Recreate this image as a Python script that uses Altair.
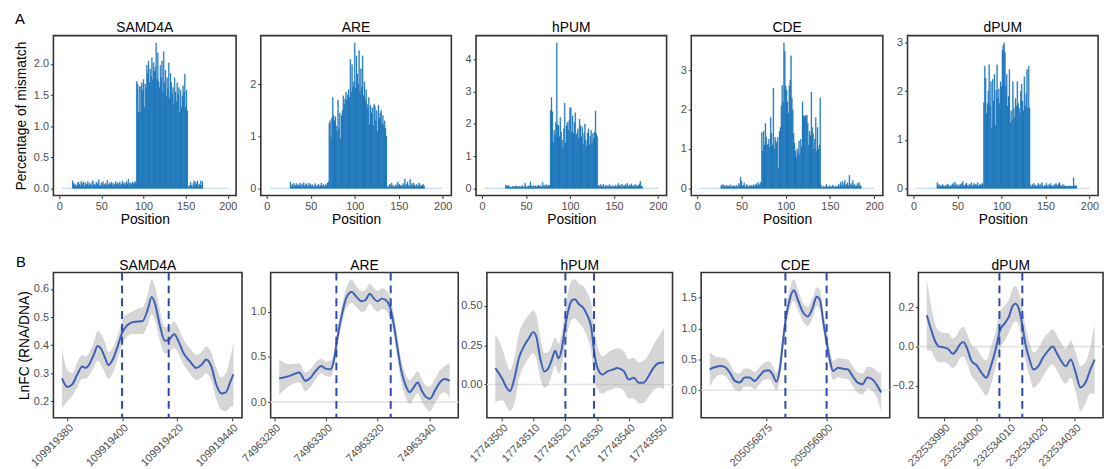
import altair as alt
import pandas as pd

FONT = "Liberation Sans"
GENES = ["SAMD4A", "ARE", "hPUM", "CDE", "dPUM"]

# ---------------- Panel A: percentage of mismatch per position ----------------
SAMD4A_START = 16
SAMD4A_LOW1 = [0.12, 0.08, 0.05, 0.07, 0.03, 0.04, 0.09, 0.10, 0.06, 0.04,
               0.11, 0.05, 0.08, 0.10, 0.03, 0.09, 0.05, 0.07, 0.11, 0.04,
               0.08, 0.06, 0.03, 0.09, 0.12, 0.05, 0.07, 0.04, 0.10, 0.06,
               0.08, 0.14, 0.05, 0.03, 0.09, 0.07, 0.11, 0.04, 0.06, 0.08,
               0.05, 0.13, 0.07, 0.04, 0.09, 0.06, 0.10, 0.05, 0.08, 0.03,
               0.07, 0.11, 0.06, 0.09, 0.04, 0.08, 0.10, 0.05, 0.07, 0.12,
               0.06, 0.09, 0.04, 0.08, 0.11, 0.07, 0.15, 0.05, 0.09, 0.08,
               0.06, 0.10, 0.07, 0.09, 0.11, 0.08]
SAMD4A_HIGH = [1.72, 1.68, 1.22, 1.64, 1.22, 1.64, 1.70, 1.58, 1.75, 1.30,
               1.68, 1.62, 1.98, 1.85, 2.05, 1.70, 1.92, 1.80, 2.10, 1.75,
               2.02, 1.88, 1.95, 2.34, 1.75, 2.18, 1.72, 1.62, 1.98, 1.78,
               2.05, 1.55, 2.20, 1.70, 1.90, 1.48, 1.78, 1.60, 2.02, 1.45,
               1.85, 1.70, 1.52, 1.62, 1.35, 1.78, 1.55, 1.40, 1.70, 1.50,
               1.62, 1.22, 1.58, 1.30, 1.48, 1.65, 1.55, 1.84, 1.30, 1.58,
               1.25]
SAMD4A_LOW2 = [0.02, 0.04, 0.03, 0.10, 0.05, 0.02, 0.08, 0.12, 0.04, 0.10,
               0.06, 0.12, 0.03, 0.07, 0.05, 0.12, 0.04, 0.11]

ARE_START = 27
ARE_LOW1 = [0.12, 0.04, 0.08, 0.03, 0.10, 0.05, 0.06, 0.09, 0.04, 0.07,
            0.05, 0.10, 0.03, 0.08, 0.06, 0.11, 0.04, 0.07, 0.09, 0.03,
            0.06, 0.10, 0.05, 0.08, 0.04, 0.07, 0.02, 0.05, 0.09, 0.03,
            0.04, 0.06, 0.08, 0.03, 0.05, 0.10, 0.04, 0.07, 0.06, 0.03,
            0.08, 0.05, 0.10, 0.12]
ARE_HIGH = [1.25, 1.30, 0.98, 1.35, 1.75, 1.40, 1.30, 1.38, 1.20, 1.10,
            1.70, 1.15, 1.45, 0.95, 1.40, 1.50, 1.78, 1.62, 1.72, 1.85,
            1.70, 1.80, 1.90, 1.75, 2.48, 1.85, 2.38, 1.95, 2.05, 2.80,
            1.92, 2.55, 2.20, 2.00, 2.65, 1.85, 2.30, 1.95, 2.55, 1.78,
            2.05, 1.70, 1.90, 1.62, 1.55, 1.75, 1.22, 1.60, 1.45, 1.55,
            1.20, 1.62, 1.58, 1.30, 1.50, 1.10, 1.60, 1.35, 1.45, 1.50,
            1.25, 1.40, 1.22, 1.30, 1.15, 1.00]
ARE_LOW2 = [0.03, 0.02, 0.05, 0.08, 0.04, 0.10, 0.03, 0.06, 0.02, 0.04,
            0.07, 0.03, 0.12, 0.05, 0.08, 0.04, 0.06, 0.03, 0.09, 0.05,
            0.18, 0.04, 0.08, 0.12, 0.06, 0.03, 0.17, 0.05, 0.09, 0.04,
            0.10, 0.06, 0.03, 0.08, 0.05, 0.04, 0.10, 0.07, 0.03, 0.06,
            0.05, 0.08, 0.04]

HPUM_START = 27
HPUM_LOW1 = [0.10, 0.08, 0.06, 0.09, 0.03, 0.05, 0.02, 0.04, 0.07, 0.03,
             0.05, 0.08, 0.04, 0.06, 0.03, 0.07, 0.05, 0.04, 0.06, 0.08,
             0.03, 0.05, 0.16, 0.04, 0.06, 0.03, 0.08, 0.05, 0.20, 0.07,
             0.04, 0.09, 0.05, 0.06, 0.08, 0.04, 0.07, 0.10, 0.05, 0.08,
             0.06, 0.04, 0.18, 0.07, 0.09, 0.05, 0.12, 0.08, 0.06, 0.10,
             0.08]
HPUM_HIGH = [2.42, 2.82, 2.38, 1.42, 1.80, 1.65, 2.05, 4.52, 1.98, 1.95,
             1.60, 2.20, 1.75, 1.50, 1.25, 1.85, 2.65, 1.40, 1.95, 2.05,
             1.80, 2.10, 2.50, 2.50, 1.75, 2.25, 1.70, 2.05, 2.35, 1.65,
             1.70, 1.85, 1.55, 2.15, 1.95, 1.60, 1.90, 1.35, 1.70, 2.00,
             1.50, 1.30, 1.72, 1.85, 1.35, 1.62, 1.80, 1.40, 1.70, 1.55,
             1.75, 2.40, 1.70, 1.60]
HPUM_LOW2 = [0.06, 0.10, 0.04, 0.12, 0.08, 0.05, 0.13, 0.04, 0.07, 0.10,
             0.03, 0.08, 0.05, 0.12, 0.06, 0.04, 0.09, 0.03, 0.07, 0.05,
             0.10, 0.04, 0.08, 0.15, 0.06, 0.10, 0.05, 0.13, 0.04, 0.09,
             0.07, 0.12, 0.05, 0.16, 0.08, 0.04, 0.11, 0.06, 0.14, 0.05,
             0.09, 0.07, 0.12, 0.05, 0.10, 0.06, 0.08, 0.13, 0.22, 0.05,
             0.07]

CDE_START = 27
CDE_LOW1 = [0.08, 0.05, 0.10, 0.04, 0.07, 0.03, 0.08, 0.05, 0.06, 0.04,
            0.09, 0.03, 0.05, 0.07, 0.04, 0.06, 0.03, 0.08, 0.05, 0.04,
            0.12, 0.06, 0.28, 0.18, 0.05, 0.08, 0.14, 0.04, 0.06, 0.10,
            0.05, 0.03, 0.07, 0.04, 0.08, 0.05, 0.06, 0.10, 0.04, 0.08,
            0.12, 0.06, 0.15, 0.08, 0.10, 0.16]
CDE_HIGH = [1.42, 0.95, 1.45, 1.10, 1.65, 1.30, 1.10, 1.12, 1.25, 1.05,
            1.80, 1.40, 1.10, 2.55, 1.00, 1.30, 1.20, 1.15, 1.30, 0.52,
            1.45, 1.55, 2.10, 2.62, 2.20, 3.70, 3.48, 2.60, 2.50, 2.20,
            1.90, 2.60, 2.75, 3.37, 2.30, 2.00, 1.40, 1.15, 0.95, 0.78,
            1.00, 0.90, 1.20, 0.85, 1.25, 1.05, 2.20, 1.85, 1.80, 1.85,
            1.85, 1.85, 1.65, 1.10, 1.45, 1.35, 2.45, 1.55, 1.40, 1.00,
            1.25, 1.80, 0.95, 1.55, 1.00, 1.10, 2.30]
CDE_LOW2 = [0.08, 0.03, 0.02, 0.06, 0.02, 0.04, 0.10, 0.03, 0.05, 0.02,
            0.07, 0.04, 0.03, 0.08, 0.05, 0.02, 0.04, 0.06, 0.03, 0.05,
            0.10, 0.04, 0.15, 0.06, 0.18, 0.08, 0.12, 0.20, 0.05, 0.10,
            0.14, 0.06, 0.33, 0.08, 0.12, 0.05, 0.20, 0.07, 0.10, 0.04,
            0.06, 0.12, 0.05, 0.15, 0.08, 0.06]

DPUM_START = 27
DPUM_LOW1 = [0.12, 0.05, 0.08, 0.03, 0.06, 0.04, 0.08, 0.05, 0.03, 0.06,
             0.04, 0.07, 0.09, 0.05, 0.03, 0.06, 0.04, 0.08, 0.10, 0.05,
             0.13, 0.06, 0.08, 0.04, 0.07, 0.03, 0.09, 0.05, 0.10, 0.14,
             0.06, 0.04, 0.08, 0.11, 0.05, 0.07, 0.03, 0.09, 0.05, 0.12,
             0.04, 0.07, 0.10, 0.06, 0.08, 0.05, 0.12, 0.04, 0.06, 0.09,
             0.05, 0.10, 0.08]
DPUM_HIGH = [1.77, 2.52, 2.27, 1.55, 1.75, 2.00, 2.55, 1.70, 2.20, 1.25,
             2.25, 1.80, 2.35, 1.30, 2.02, 2.55, 1.85, 2.05, 1.75, 2.20,
             2.10, 2.85, 2.95, 3.00, 2.80, 2.10, 2.35, 1.70, 1.90, 2.45,
             1.35, 1.60, 1.40, 2.20, 1.65, 1.45, 1.85, 1.70, 2.20, 1.75,
             1.65, 1.55, 2.00, 2.15, 1.80, 1.60, 2.30, 1.70, 1.95, 2.45,
             1.65, 2.52, 1.65]
DPUM_LOW2 = [0.06, 0.03, 0.08, 0.05, 0.10, 0.04, 0.07, 0.03, 0.06, 0.10,
             0.04, 0.08, 0.03, 0.12, 0.05, 0.02, 0.06, 0.04, 0.10, 0.05,
             0.03, 0.08, 0.05, 0.10, 0.04, 0.06, 0.03, 0.08, 0.05, 0.10,
             0.07, 0.04, 0.09, 0.12, 0.06, 0.04, 0.05, 0.08, 0.03, 0.06,
             0.04, 0.04, 0.04, 0.04, 0.04, 0.05, 0.04, 0.04, 0.04, 0.22,
             0.05, 0.04, 0.06]

A_STARTS = [SAMD4A_START, ARE_START, HPUM_START, CDE_START, DPUM_START]
A_VALUES = [SAMD4A_LOW1 + SAMD4A_HIGH + SAMD4A_LOW2,
            ARE_LOW1 + ARE_HIGH + ARE_LOW2,
            HPUM_LOW1 + HPUM_HIGH + HPUM_LOW2,
            CDE_LOW1 + CDE_HIGH + CDE_LOW2,
            DPUM_LOW1 + DPUM_HIGH + DPUM_LOW2]
A_BASELINE = [3, 200]
A_XTICKS = [0, 50, 100, 150, 200]
A_YTICKS = [[0.0, 0.5, 1.0, 1.5, 2.0], [0, 1, 2], [0, 1, 2, 3, 4], [0, 1, 2, 3], [0, 1, 2, 3]]
A_YFMT = [".1f", "d", "d", "d", "d"]

# ---------------- Panel B: smoothed LnFC (RNA/DNA) ----------------
SAMD4A_POS = [109919378.1, 109919380.1, 109919381.9, 109919383.7, 109919385.5, 109919386.7,
              109919387.9, 109919389.7, 109919391.1, 109919392.3, 109919393.8, 109919395.0,
              109919396.6, 109919398.6, 109919400.1, 109919401.8, 109919403.7, 109919405.7,
              109919407.5, 109919409.3, 109919410.8, 109919412.0, 109919413.7, 109919415.6,
              109919417.0, 109919419.0, 109919420.6, 109919422.4, 109919424.7, 109919427.1,
              109919428.9, 109919430.7, 109919432.5, 109919434.3, 109919436.1, 109919437.8,
              109919439.6, 109919440.6]
SAMD4A_FIT = [0.282, 0.251, 0.261, 0.296, 0.324, 0.319, 0.329, 0.366, 0.397, 0.388,
              0.355, 0.329, 0.349, 0.402, 0.446, 0.470, 0.481, 0.484, 0.486, 0.525,
              0.572, 0.548, 0.474, 0.416, 0.419, 0.439, 0.413, 0.372, 0.343, 0.319,
              0.329, 0.349, 0.325, 0.261, 0.228, 0.232, 0.273, 0.296]
SAMD4A_LO = [0.175, 0.20, 0.22, 0.25, 0.28, 0.28, 0.29, 0.32, 0.345, 0.33,
             0.30, 0.28, 0.30, 0.36, 0.40, 0.43, 0.44, 0.44, 0.44, 0.47,
             0.51, 0.49, 0.42, 0.37, 0.375, 0.39, 0.37, 0.33, 0.30, 0.275,
             0.285, 0.30, 0.275, 0.21, 0.17, 0.165, 0.18, 0.185]
SAMD4A_HI = [0.39, 0.31, 0.30, 0.34, 0.365, 0.36, 0.37, 0.41, 0.45, 0.44,
             0.41, 0.375, 0.39, 0.44, 0.49, 0.51, 0.52, 0.53, 0.535, 0.58,
             0.635, 0.61, 0.53, 0.465, 0.465, 0.485, 0.46, 0.42, 0.39, 0.365,
             0.375, 0.395, 0.375, 0.32, 0.285, 0.30, 0.365, 0.41]
SAMD4A_DASH = [109919400, 109919417]
SAMD4A_XTICKS = [109919380, 109919400, 109919420, 109919440]

ARE_POS = [74963281.9, 74963285.9, 74963289.7, 74963292.0, 74963294.1, 74963296.0,
           74963298.2, 74963299.8, 74963301.7, 74963303.0, 74963304.2, 74963306.1,
           74963308.0, 74963309.9, 74963311.8, 74963313.7, 74963315.2, 74963316.9,
           74963318.5, 74963320.0, 74963321.5, 74963323.2, 74963324.7, 74963326.1,
           74963327.6, 74963329.1, 74963330.8, 74963332.3, 74963333.9, 74963335.4,
           74963337.0, 74963338.7, 74963340.2, 74963342.1, 74963344.0, 74963345.9,
           74963347.8]
ARE_FIT = [0.262, 0.29, 0.327, 0.236, 0.273, 0.345, 0.40, 0.37, 0.364, 0.455,
           0.673, 0.964, 1.164, 1.218, 1.164, 1.116, 1.127, 1.20, 1.145, 1.116,
           1.145, 1.127, 1.055, 0.873, 0.60, 0.345, 0.182, 0.109, 0.164, 0.218,
           0.127, 0.055, 0.036, 0.127, 0.218, 0.255, 0.236]
ARE_LO = [0.08, 0.18, 0.22, 0.12, 0.17, 0.25, 0.32, 0.29, 0.28, 0.37,
          0.58, 0.86, 1.05, 1.10, 1.05, 1.00, 1.01, 1.09, 1.03, 1.00,
          1.03, 1.01, 0.94, 0.76, 0.48, 0.22, 0.05, -0.02, 0.04, 0.10,
          0.01, -0.07, -0.10, -0.01, 0.08, 0.11, 0.05]
ARE_HI = [0.47, 0.42, 0.43, 0.33, 0.37, 0.44, 0.48, 0.45, 0.46, 0.54,
          0.77, 1.06, 1.28, 1.36, 1.28, 1.23, 1.24, 1.31, 1.26, 1.23,
          1.26, 1.24, 1.17, 0.99, 0.72, 0.46, 0.31, 0.24, 0.29, 0.34,
          0.25, 0.18, 0.17, 0.26, 0.35, 0.40, 0.43]
ARE_DASH = [74963304, 74963325]
ARE_XTICKS = [74963280, 74963300, 74963320, 74963340]

HPUM_POS = [17743498.0, 17743500.3, 17743501.5, 17743502.6, 17743503.9, 17743505.4,
            17743507.0, 17743508.5, 17743509.9, 17743510.9, 17743512.1, 17743513.4,
            17743514.7, 17743515.7, 17743516.8, 17743517.8, 17743518.8, 17743519.8,
            17743520.9, 17743521.9, 17743522.9, 17743524.3, 17743525.5, 17743526.7,
            17743528.1, 17743529.1, 17743530.1, 17743531.7, 17743533.2, 17743534.8,
            17743536.3, 17743538.4, 17743539.9, 17743541.5, 17743543.0, 17743544.5,
            17743546.1, 17743547.6, 17743549.2, 17743551.0]
HPUM_FIT = [0.104, 0.031, -0.02, -0.042, 0.031, 0.167, 0.244, 0.292, 0.333, 0.302,
            0.167, 0.083, 0.104, 0.156, 0.215, 0.167, 0.219, 0.354, 0.469, 0.531,
            0.542, 0.51, 0.49, 0.448, 0.365, 0.198, 0.104, 0.0625, 0.083, 0.094,
            0.104, 0.083, 0.031, 0.042, 0.010, 0.010, 0.052, 0.104, 0.135, 0.14]
HPUM_LO = [-0.11, -0.10, -0.14, -0.17, -0.13, 0.03, 0.12, 0.17, 0.20, 0.16,
           0.04, -0.02, 0.00, 0.06, 0.12, 0.07, 0.11, 0.23, 0.35, 0.41,
           0.42, 0.39, 0.36, 0.31, 0.21, 0.04, -0.03, -0.06, -0.04, -0.03,
           -0.02, -0.04, -0.09, -0.09, -0.12, -0.12, -0.08, -0.04, -0.02, -0.03]
HPUM_HI = [0.32, 0.22, 0.14, 0.09, 0.16, 0.32, 0.40, 0.44, 0.47, 0.44,
           0.30, 0.20, 0.21, 0.25, 0.30, 0.26, 0.32, 0.46, 0.59, 0.66,
           0.67, 0.64, 0.63, 0.59, 0.52, 0.36, 0.24, 0.18, 0.20, 0.22,
           0.23, 0.21, 0.16, 0.17, 0.14, 0.15, 0.19, 0.25, 0.30, 0.36]
HPUM_DASH = [17743520, 17743529]
HPUM_XTICKS = [17743500, 17743510, 17743520, 17743530, 17743540, 17743550]

CDE_POS = [205056851.8, 205056854.1, 205056856.1, 205056858.1, 205056860.1, 205056862.2,
           205056864.2, 205056866.2, 205056868.2, 205056870.3, 205056872.3, 205056874.3,
           205056876.1, 205056877.7, 205056879.3, 205056880.7, 205056882.0, 205056883.3,
           205056884.7, 205056886.5, 205056888.2, 205056890.1, 205056892.2, 205056894.2,
           205056895.9, 205056897.3, 205056898.6, 205056900.0, 205056901.3, 205056902.7,
           205056904.7, 205056906.7, 205056908.7, 205056910.7, 205056912.8, 205056914.8,
           205056916.8, 205056918.8, 205056920.9, 205056922.5]
CDE_FIT = [0.338, 0.375, 0.391, 0.375, 0.284, 0.15, 0.123, 0.204, 0.204, 0.15,
           0.23, 0.311, 0.322, 0.257, 0.14, 0.338, 0.793, 1.195, 1.46, 1.62,
           1.46, 1.275, 1.195, 1.33, 1.515, 1.46, 1.114, 0.793, 0.498, 0.311,
           0.364, 0.348, 0.338, 0.23, 0.123, 0.097, 0.204, 0.177, 0.07, -0.037]
CDE_LO = [0.05, 0.20, 0.25, 0.23, 0.14, 0.01, -0.02, 0.06, 0.06, 0.01,
          0.09, 0.17, 0.18, 0.11, -0.01, 0.19, 0.64, 1.04, 1.30, 1.45,
          1.30, 1.12, 1.04, 1.17, 1.36, 1.30, 0.96, 0.64, 0.35, 0.16,
          0.21, 0.19, 0.18, 0.07, -0.04, -0.07, 0.03, -0.01, -0.14, -0.34]
CDE_HI = [0.62, 0.55, 0.53, 0.52, 0.43, 0.29, 0.27, 0.35, 0.35, 0.29,
          0.37, 0.45, 0.47, 0.40, 0.29, 0.49, 0.95, 1.35, 1.62, 1.80,
          1.62, 1.43, 1.35, 1.49, 1.67, 1.62, 1.27, 0.95, 0.65, 0.47,
          0.52, 0.51, 0.50, 0.39, 0.29, 0.27, 0.38, 0.37, 0.30, 0.28]
CDE_DASH = [205056883, 205056900]
CDE_XTICKS = [205056875, 205056900]

DPUM_POS = [232533984.8, 232533986.0, 232533987.3, 232533988.5, 232533990.0, 232533991.5,
            232533992.7, 232533994.0, 232533995.0, 232533996.0, 232533997.0, 232533998.5,
            232534000.0, 232534001.5, 232534003.0, 232534004.4, 232534005.9, 232534007.2,
            232534008.6, 232534009.9, 232534010.9, 232534011.9, 232534012.9, 232534013.9,
            232534014.9, 232534016.2, 232534017.4, 232534018.9, 232534020.4, 232534021.9,
            232534023.3, 232534024.5, 232534025.8, 232534027.3, 232534028.8, 232534030.3,
            232534031.8, 232534033.3, 232534034.8, 232534036.1]
DPUM_FIT = [0.161, 0.094, 0.030, 0.001, -0.004, -0.015, -0.037, -0.015, 0.013, 0.023,
            -0.004, -0.074, -0.095, -0.133, -0.159, -0.10, -0.01, 0.085, 0.119, 0.153,
            0.203, 0.22, 0.195, 0.119, 0.018, -0.066, -0.117, -0.10, -0.054, -0.02,
            0.001, -0.032, -0.071, -0.10, -0.066, -0.133, -0.209, -0.184, -0.117, -0.066]
DPUM_LO = [-0.02, -0.02, -0.06, -0.08, -0.08, -0.09, -0.11, -0.09, -0.06, -0.05,
           -0.08, -0.15, -0.18, -0.22, -0.25, -0.20, -0.10, -0.01, 0.03, 0.07,
           0.11, 0.13, 0.11, 0.03, -0.07, -0.15, -0.21, -0.19, -0.15, -0.11,
           -0.09, -0.12, -0.16, -0.19, -0.16, -0.23, -0.33, -0.29, -0.24, -0.24]
DPUM_HI = [0.345, 0.22, 0.12, 0.08, 0.07, 0.07, 0.04, 0.06, 0.09, 0.10,
           0.07, 0.01, -0.01, -0.05, -0.07, 0.00, 0.08, 0.18, 0.21, 0.24,
           0.29, 0.31, 0.28, 0.21, 0.11, 0.02, -0.03, -0.01, 0.04, 0.07,
           0.09, 0.06, 0.02, -0.01, 0.03, -0.03, -0.10, -0.08, 0.00, 0.12]
DPUM_DASH = [232534007, 232534014]
DPUM_XTICKS = [232533990, 232534000, 232534010, 232534020, 232534030]

B_POS = [SAMD4A_POS, ARE_POS, HPUM_POS, CDE_POS, DPUM_POS]
B_FIT = [SAMD4A_FIT, ARE_FIT, HPUM_FIT, CDE_FIT, DPUM_FIT]
B_LO = [SAMD4A_LO, ARE_LO, HPUM_LO, CDE_LO, DPUM_LO]
B_HI = [SAMD4A_HI, ARE_HI, HPUM_HI, CDE_HI, DPUM_HI]
B_DASH = [SAMD4A_DASH, ARE_DASH, HPUM_DASH, CDE_DASH, DPUM_DASH]
B_XTICKS = [SAMD4A_XTICKS, ARE_XTICKS, HPUM_XTICKS, CDE_XTICKS, DPUM_XTICKS]
B_YTICKS = [[0.2, 0.3, 0.4, 0.5, 0.6], [0.0, 0.5, 1.0], [0.0, 0.25, 0.5],
            [0.0, 0.5, 1.0, 1.5], [-0.2, 0.0, 0.2]]
B_YFMT = [".1f", ".1f", ".2f", ".1f", ".1f"]

# ---------------- styling / layout ----------------
BAR_COLOR = "#1571b9"
BASE_COLOR = "#b5d3ec"
LINE_COLOR = "#3d61b6"
DASH_COLOR = "#2c4aa3"
TOP_W = [185, 193, 193, 194, 193]
TOP_H = 162
BOT_W = [191, 190, 188, 191, 187]
BOT_H = 147


def expand(lo, hi, f=0.05):
    r = hi - lo
    return [lo - f * r, hi + f * r]


def label_text(text, dx, dy, size, align="left", baseline="alphabetic", opacity=1.0):
    return alt.Chart(pd.DataFrame({"t": [text]})).mark_text(
        align=align, baseline=baseline, fontSize=size, font=FONT,
        color="#000000", opacity=opacity
    ).encode(text="t:N", x=alt.value(dx), y=alt.value(dy))


def mismatch_panel(i):
    vals = A_VALUES[i]
    start = A_STARTS[i]
    df = pd.DataFrame({"pos": [start + k for k in range(len(vals))], "val": vals})
    vmax = max(vals)
    xs = alt.Scale(domain=expand(A_BASELINE[0], A_BASELINE[1]), nice=False, zero=False)
    ys = alt.Scale(domain=[-0.05 * vmax, 1.05 * vmax], nice=False, zero=False)
    xaxis = alt.Axis(values=A_XTICKS, title="Position", labelFlush=False, titlePadding=1,
                     labelOverlap=False)
    yaxis = alt.Axis(values=A_YTICKS[i], format=A_YFMT[i], labelFlush=False, labelOverlap=False,
                     title="Percentage of mismatch" if i == 0 else None, titlePadding=5)
    base = alt.Chart(pd.DataFrame({"a": [A_BASELINE[0]], "b": [A_BASELINE[1]], "z": [0]})).mark_rule(
        color=BASE_COLOR, strokeWidth=1
    ).encode(x=alt.X("a:Q", scale=xs, axis=xaxis), x2="b:Q", y=alt.Y("z:Q", scale=ys, axis=yaxis))
    bars = alt.Chart(df).transform_calculate(
        a="datum.pos - 0.5", b="datum.pos + 0.5"
    ).mark_rect(color=BAR_COLOR, stroke=BAR_COLOR, strokeWidth=0.35).encode(
        x=alt.X("a:Q", scale=xs, axis=xaxis), x2="b:Q",
        y=alt.Y("val:Q", scale=ys, axis=yaxis), y2=alt.datum(0)
    )
    layers = [base, bars, label_text(GENES[i], TOP_W[i] / 2, -4, 14, align="center")]
    if i == 0:
        # invisible anchor keeps row A offset from row B as in the reference
        layers.append(label_text("A", -45, -24, 15, baseline="top", opacity=0))
        layers.append(label_text("A", -39, -24, 15, baseline="top"))
    return alt.layer(*layers).properties(width=TOP_W[i], height=TOP_H)


def lnfc_panel(i):
    df = pd.DataFrame({"x": B_POS[i], "fit": B_FIT[i], "lo": B_LO[i], "hi": B_HI[i]})
    xdom = expand(min(B_POS[i]), max(B_POS[i]))
    ydom = expand(min(B_LO[i]), max(B_HI[i]))
    xs = alt.Scale(domain=xdom, nice=False, zero=False)
    ys = alt.Scale(domain=ydom, nice=False, zero=False)
    xaxis = alt.Axis(values=B_XTICKS[i], format="d", title=None, labelAngle=-45,
                     labelAlign="right", labelBaseline="top", labelFlush=False,
                     labelPadding=1, labelOverlap=False)
    yaxis = alt.Axis(values=B_YTICKS[i], format=B_YFMT[i], labelFlush=False, labelOverlap=False,
                     title="LnFC (RNA/DNA)" if i == 0 else None, titlePadding=2)
    layers = []
    if ydom[0] < 0 < ydom[1]:
        layers.append(alt.Chart(pd.DataFrame({"z": [0]})).mark_rule(
            color="#e4e4e4", strokeWidth=1.6).encode(y=alt.Y("z:Q", scale=ys, axis=yaxis)))
    ribbon = alt.Chart(df).mark_area(color="#999999", opacity=0.4, interpolate="monotone").encode(
        x=alt.X("x:Q", scale=xs, axis=xaxis), y=alt.Y("lo:Q", scale=ys, axis=yaxis), y2="hi:Q")
    line = alt.Chart(df).mark_line(color=LINE_COLOR, strokeWidth=2, interpolate="monotone").encode(
        x=alt.X("x:Q", scale=xs, axis=xaxis), y=alt.Y("fit:Q", scale=ys, axis=yaxis))
    dash = alt.Chart(pd.DataFrame({"d": B_DASH[i]})).mark_rule(
        color=DASH_COLOR, strokeWidth=2, strokeDash=[8, 5]).encode(
        x=alt.X("d:Q", scale=xs, axis=xaxis))
    layers += [ribbon, line, dash, label_text(GENES[i], BOT_W[i] / 2, -3, 14, align="center")]
    if i == 0:
        layers.append(label_text("B", -38, -18, 15, baseline="top"))
    return alt.layer(*layers).properties(width=BOT_W[i], height=BOT_H)


top = alt.hconcat(*[mismatch_panel(i) for i in range(5)], spacing=25, bounds="flush")
bottom = alt.hconcat(*[lnfc_panel(i) for i in range(5)], spacing=29, bounds="flush")

chart = alt.vconcat(top, bottom, spacing=27).properties(
    padding=0
).configure_view(
    stroke="#333333", strokeWidth=1.6
).configure_axis(
    domain=False, grid=False, tickColor="#333333", tickSize=3, tickWidth=1,
    labelColor="#4d4d4d", labelFontSize=11, labelFont=FONT, labelPadding=2,
    titleFont=FONT, titleFontSize=14, titleFontWeight="normal", titleColor="#000000"
)

chart.save("out.html", embed_options={"renderer": "svg", "actions": False})
